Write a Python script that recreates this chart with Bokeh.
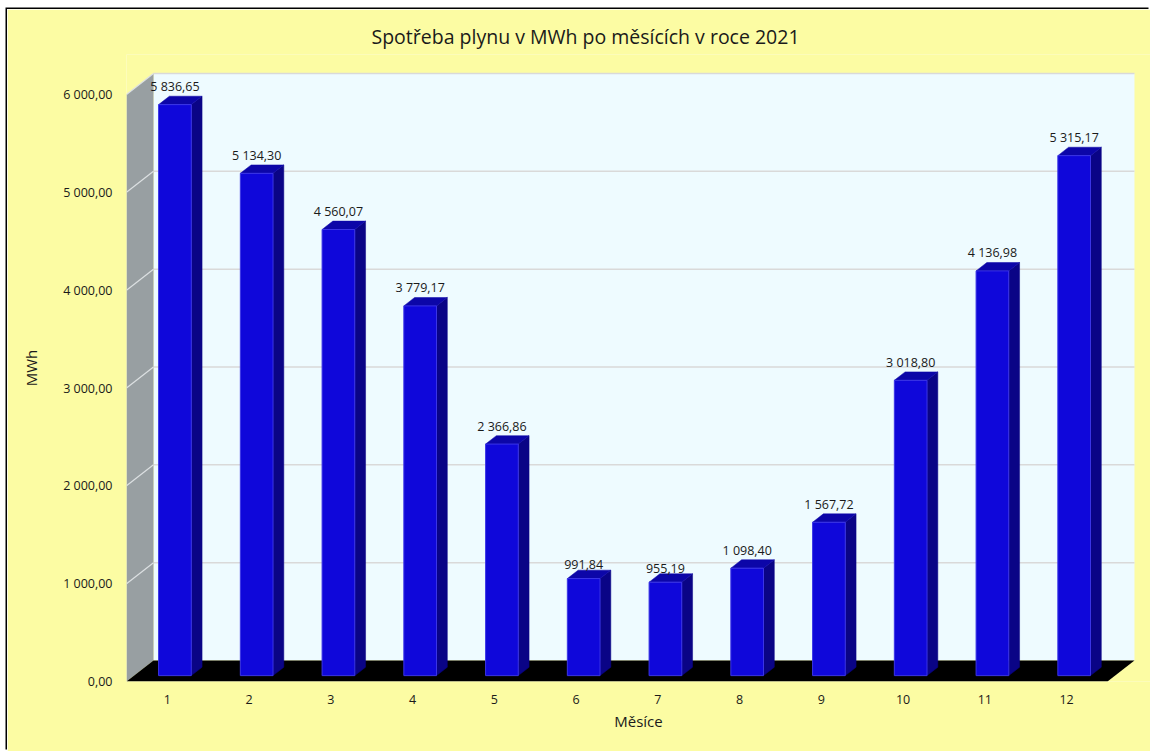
from bokeh.plotting import figure
from bokeh.models import Range1d
from bokeh.embed import file_html
from bokeh.resources import INLINE
from bokeh.core.properties import value

# ---- data ----
months = [1, 2, 3, 4, 5, 6, 7, 8, 9, 10, 11, 12]
consumption = [5836.65, 5134.30, 4560.07, 3779.17, 2366.86, 991.84,
               955.19, 1098.40, 1567.72, 3018.80, 4136.98, 5315.17]
y_ticks = [0, 1000, 2000, 3000, 4000, 5000, 6000]
title_text = "Spotřeba plynu v MWh po měsících v roce 2021"
x_title = "Měsíce"
y_title = "MWh"


def cz(v):
    return f"{v:,.2f}".replace(",", " ").replace(".", ",")


# ---- style / geometry ----
FONT = "Open Sans"
YELLOW = "#FCFCA3"
W, H = 1143, 742
X0, X1 = 0.5, 13.026
Y0, Y1 = 0, 6409
DX = 0.330      # 3D depth offset (x units)
DY = 214.7      # 3D depth offset (y units)
HW = 0.2        # bar half width
F0, F1 = 0.28, 0.68  # bar depth position (front, back)

p = figure(width=W, height=H, x_range=Range1d(X0, X1), y_range=Range1d(Y0, Y1),
           output_backend="svg", toolbar_location=None,
           min_border_left=119, min_border_right=0, min_border_top=45,
           min_border_bottom=70)
p.margin = (9, 0, 0, 7)
p.styles = {"box-shadow": "-1.5px -1.5px 0 0 #000"}
p.background_fill_color = YELLOW
p.border_fill_color = YELLOW
p.outline_line_color = None
p.xgrid.visible = False
p.ygrid.visible = False

p.title.text = title_text
p.title.align = "left"
p.title.offset = 245
p.title.text_font = FONT
p.title.text_font_size = "19.5px"
p.title.text_font_style = "normal"
p.title.text_color = "#1a1a1a"

xl = months[0] - 0.5
xr = months[-1] + 0.5
ytop = y_ticks[-1]

# back wall
p.patch([xl + DX, xr + DX, xr + DX, xl + DX], [DY, DY, ytop + DY, ytop + DY],
        fill_color="#EEFBFF", line_color=None)
# back wall gridlines
for t in y_ticks[1:]:
    p.line([xl + DX, xr + DX], [t + DY, t + DY], line_color="#D9D9D9", line_width=1.5)
# side wall
p.patch([xl, xl + DX, xl + DX, xl], [0, DY, ytop + DY, ytop],
        fill_color="#989FA2", line_color=None)
for t in y_ticks[1:]:
    p.line([xl, xl + DX], [t, t + DY], line_color="#DCE0E2", line_width=1.2)
# floor
p.patch([xl, xr, xr + DX, xl + DX], [0, 0, DY, DY], fill_color="#000000", line_color=None)

# bars
fx = [m + F0 * DX for m in months]
bx = [m + F1 * DX for m in months]
side_xs = [[f + HW, b + HW, b + HW, f + HW] for f, b in zip(fx, bx)]
side_ys = [[F0 * DY, F1 * DY, v + F1 * DY, v + F0 * DY] for v in consumption]
top_xs = [[f - HW, f + HW, b + HW, b - HW] for f, b in zip(fx, bx)]
top_ys = [[v + F0 * DY, v + F0 * DY, v + F1 * DY, v + F1 * DY] for v in consumption]
p.patches(side_xs, side_ys, fill_color="#0A0486", line_color="#0A0486", line_width=0.5)
p.patches(top_xs, top_ys, fill_color="#0C06A8", line_color="#0C06A8", line_width=0.5)
p.vbar(x=fx, width=2 * HW, bottom=F0 * DY, top=[v + F0 * DY for v in consumption],
       fill_color="#0F07DA", line_color="#3B35E6", line_width=1)

# data labels
p.text(x=fx, y=[v + F1 * DY for v in consumption], text=[cz(v) for v in consumption],
       text_align="center", text_baseline="bottom", y_offset=-1,
       text_font=value(FONT), text_font_size="12.5px", text_color="#1a1a1a")

# axes
p.yaxis.ticker = y_ticks
p.yaxis.major_label_overrides = {t: cz(t) for t in y_ticks}
p.xaxis.ticker = months
for ax in (p.xaxis, p.yaxis):
    ax.axis_line_color = None
    ax.major_tick_line_color = None
    ax.minor_tick_line_color = None
    ax.major_tick_out = 0
    ax.major_tick_in = 0
    ax.minor_tick_out = 0
    ax.major_label_text_font = FONT
    ax.major_label_text_font_size = "12.5px"
    ax.major_label_text_color = "#1a1a1a"
    ax.axis_label_text_font = FONT
    ax.axis_label_text_font_size = "15px"
    ax.axis_label_text_font_style = "normal"
    ax.axis_label_text_color = "#1a1a1a"
p.yaxis.major_label_standoff = 14
p.xaxis.major_label_standoff = 13
p.yaxis.axis_label = y_title
p.xaxis.axis_label = x_title
p.yaxis.axis_label_standoff = 19
p.xaxis.axis_label_standoff = 4

open("out.html", "w").write(file_html(p, INLINE))
